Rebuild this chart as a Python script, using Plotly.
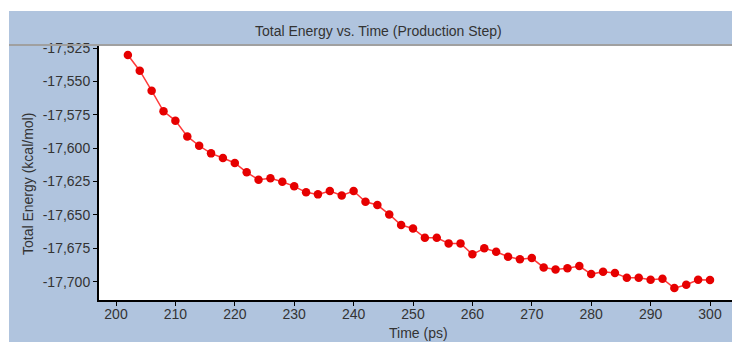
import plotly.graph_objects as go

time_ps = [202, 204, 206, 208, 210, 212, 214, 216, 218, 220,
           222, 224, 226, 228, 230, 232, 234, 236, 238, 240,
           242, 244, 246, 248, 250, 252, 254, 256, 258, 260,
           262, 264, 266, 268, 270, 272, 274, 276, 278, 280,
           282, 284, 286, 288, 290, 292, 294, 296, 298, 300]
energy = [-17530.2, -17542.0, -17557.0, -17572.4, -17579.4, -17591.2, -17598.2, -17603.9, -17607.4, -17611.1,
          -17618.1, -17623.6, -17622.6, -17625.1, -17628.6, -17633.1, -17634.6, -17632.1, -17635.4, -17632.1,
          -17640.1, -17642.6, -17649.6, -17657.6, -17660.1, -17667.1, -17667.1, -17671.3, -17671.3, -17679.5,
          -17675.0, -17677.6, -17681.3, -17683.1, -17682.3, -17689.3, -17690.8, -17690.0, -17688.3, -17694.3,
          -17692.6, -17693.5, -17697.1, -17697.1, -17698.6, -17697.8, -17704.8, -17702.3, -17698.6, -17698.8]

x_tick_vals = [200, 210, 220, 230, 240, 250, 260, 270, 280, 290, 300]
y_tick_vals = [-17525, -17550, -17575, -17600, -17625, -17650, -17675, -17700]
y_tick_text = ["-17,525", "-17,550", "-17,575", "-17,600", "-17,625", "-17,650", "-17,675", "-17,700"]

W, H = 740, 342
L, R, T, B = 99, 0, 46, 42
pw = W - L - R
ph = H - T - B

def px(x):  # page pixel -> paper x
    return (x - L) / pw

def py(y):  # page pixel -> paper y
    return (H - B - y) / ph

# x axis: 200 at px 116, 300 at px 710
x_per_px = 100 / (710 - 116)
x_lo = 200 - (116 - L) * x_per_px
x_hi = 200 + (W - 116) * x_per_px

font_color = "#333333"
fam = "Liberation Sans, Arial, sans-serif"
fs = 14

fig = go.Figure()
fig.add_trace(go.Scatter(
    x=time_ps, y=energy, mode="lines+markers",
    line=dict(color="#ff3a3a", width=1.5),
    marker=dict(color="#e60000", size=8.5),
    showlegend=False,
))

fig.add_shape(type="rect", xref="paper", yref="paper",
              x0=px(9), x1=px(760), y0=py(11), y1=py(360),
              fillcolor="#b0c4de", line=dict(width=0), layer="below")
fig.add_shape(type="rect", xref="paper", yref="paper",
              x0=0, x1=1, y0=0, y1=1,
              fillcolor="white", line=dict(width=0), layer="below")
fig.add_shape(type="line", xref="paper", yref="paper",
              x0=px(9), x1=px(760), y0=py(45), y1=py(45),
              line=dict(color="#a0a0a0", width=2), layer="above")

fig.add_annotation(text="Total Energy vs. Time (Production Step)",
                   xref="paper", yref="paper", x=px(378), y=py(31),
                   showarrow=False, xanchor="center", yanchor="middle",
                   font=dict(size=fs, color=font_color, family=fam))
fig.add_annotation(text="Time (ps)",
                   xref="paper", yref="paper", x=px(418), y=py(333),
                   showarrow=False, xanchor="center", yanchor="middle",
                   font=dict(size=fs, color=font_color, family=fam))
fig.add_annotation(text="Total Energy (kcal/mol)", textangle=-90,
                   xref="paper", yref="paper", x=px(28), y=py(184),
                   showarrow=False, xanchor="center", yanchor="middle",
                   font=dict(size=fs, color=font_color, family=fam))

fig.update_layout(
    width=W, height=H,
    margin=dict(l=L, r=R, t=T, b=B, pad=0),
    paper_bgcolor="white",
    plot_bgcolor="white",
    font=dict(family=fam, size=fs, color=font_color),
    xaxis=dict(
        range=[x_lo, x_hi],
        tickvals=x_tick_vals,
        showgrid=False, zeroline=False,
        showline=True, linecolor="black", linewidth=2,
        ticks="outside", ticklen=4, tickcolor="black", tickwidth=1,
        tickfont=dict(size=fs, color=font_color),
        ticklabelstandoff=-4,
    ),
    yaxis=dict(
        range=[-17713.7, -17523.5],
        tickvals=y_tick_vals, ticktext=y_tick_text,
        showgrid=False, zeroline=False,
        showline=True, linecolor="black", linewidth=2,
        ticks="outside", ticklen=4, tickcolor="black", tickwidth=1,
        tickfont=dict(size=fs, color=font_color),
    ),
)

fig.write_html("out.html", config={"displayModeBar": False},
               post_script="document.body.style.margin='0';document.body.style.overflow='hidden';")
